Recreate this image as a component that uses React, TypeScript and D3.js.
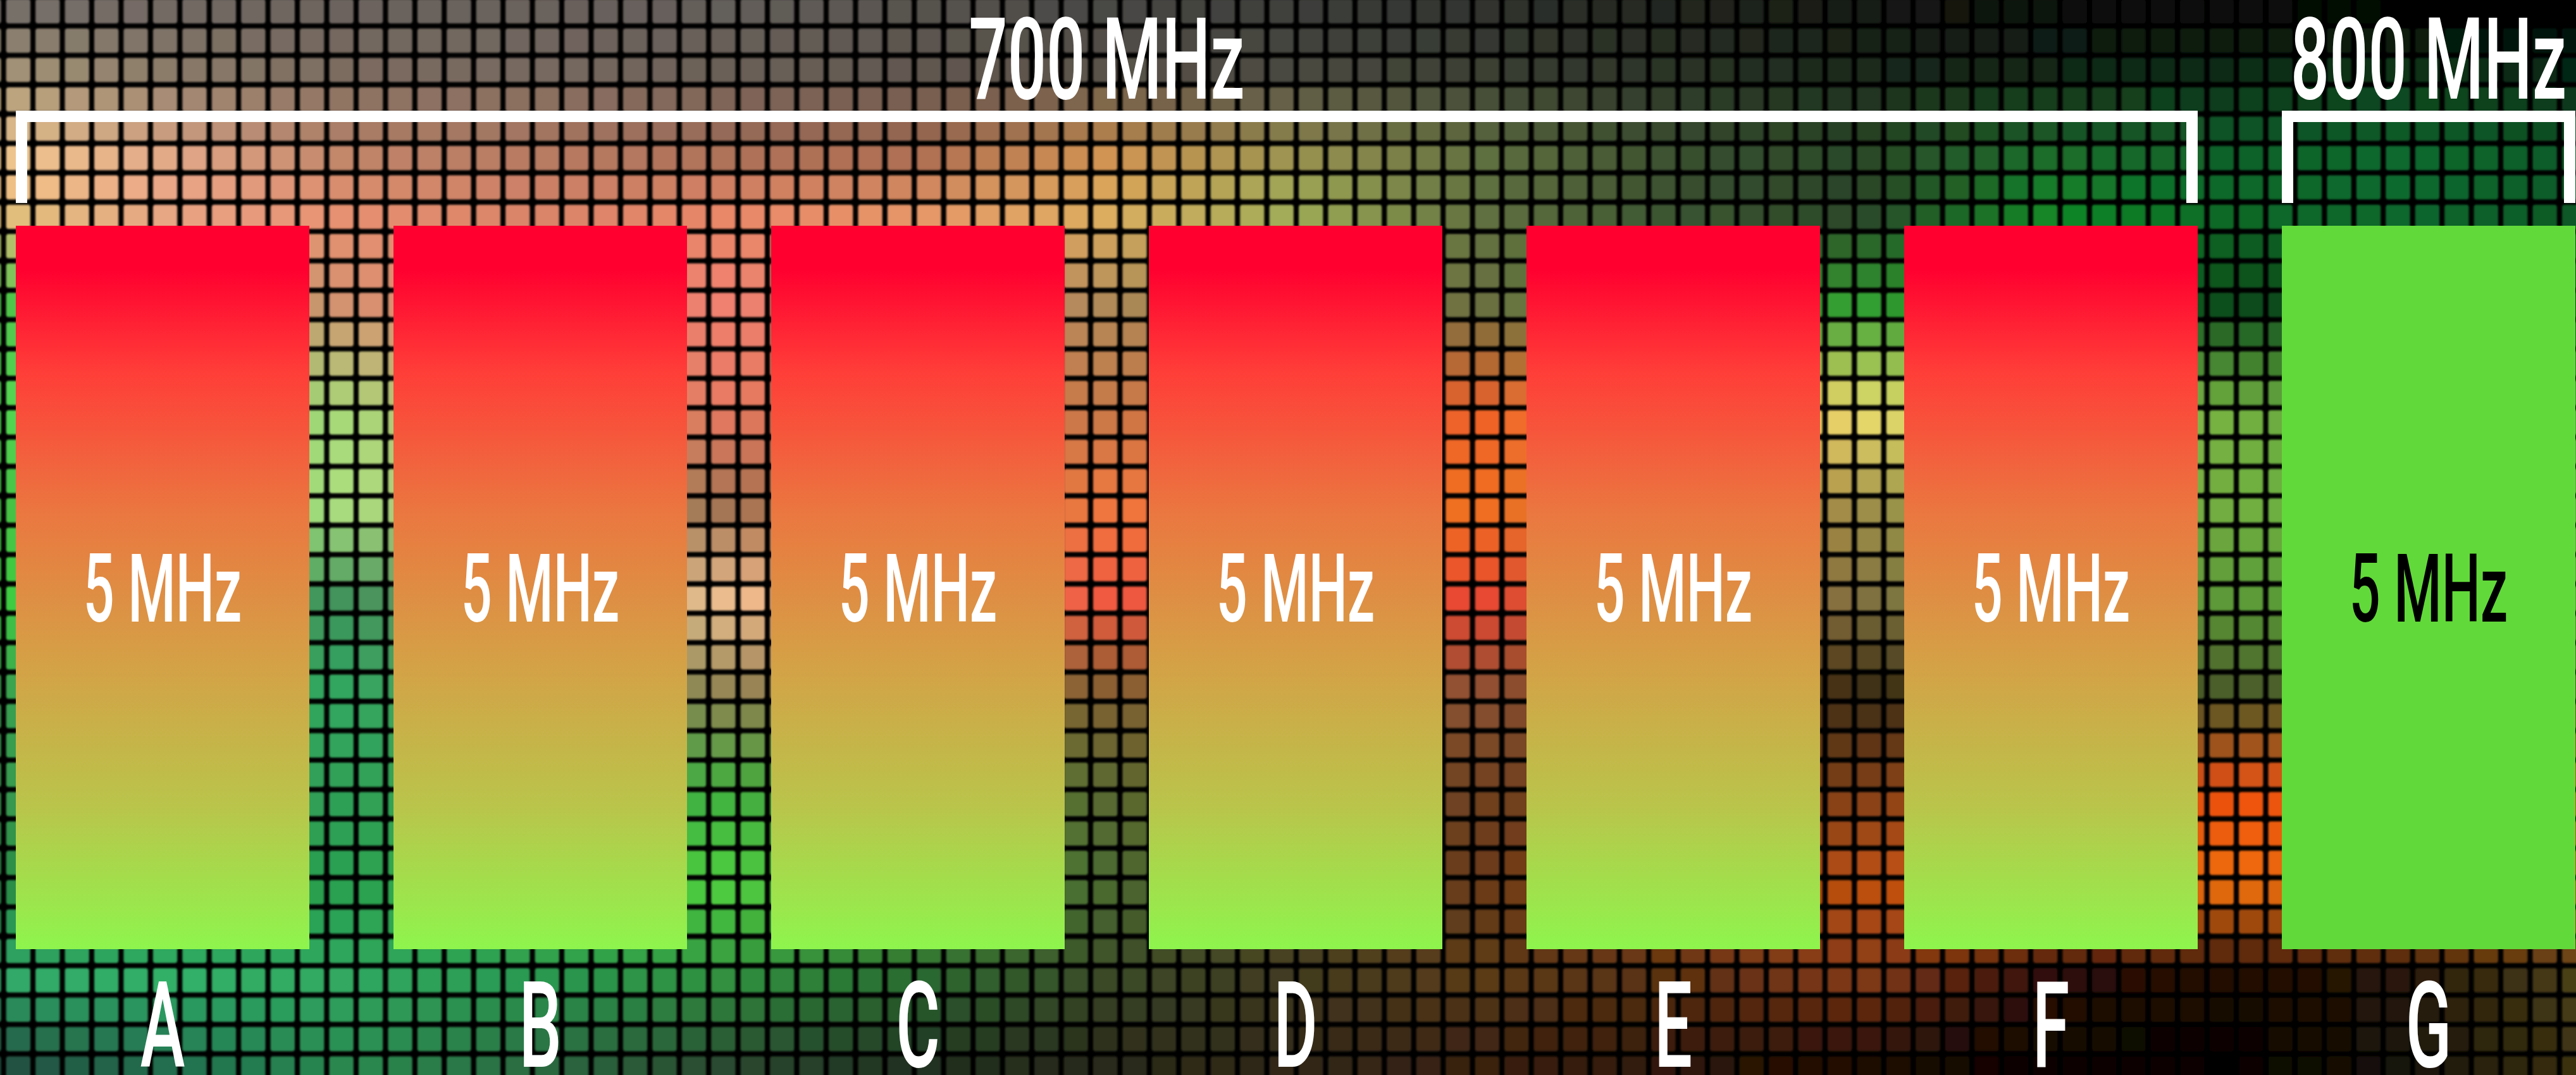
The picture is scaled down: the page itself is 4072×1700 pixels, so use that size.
import React, { useMemo } from "react";
import * as d3 from "d3";

const W = 4072;
const H = 1700;

// channels of 5 MHz each, grouped in two frequency bands
const channels = ["A", "B", "C", "D", "E", "F", "G"];
const channelWidthMHz = [5, 5, 5, 5, 5, 5, 5];
const bandNames = ["700 MHz", "800 MHz"];
const bandFirst = ["A", "G"];
const bandLast = ["F", "G"];
const freeChannel = "G";

// colours sampled from the mosaic backdrop (columns x rows)
const mosaicX = [0, 278, 556, 854, 1152, 1451, 1750, 2048, 2346, 2645, 2944, 3243, 3542, 3807, 4072];
const mosaicY = [20, 120, 240, 330, 480, 650, 800, 950, 1100, 1250, 1400, 1550, 1680];
const mosaicRows = [
  ["#77706a", "#736a64", "#6c645e", "#6a625c", "#645e5a", "#58544f", "#4a4845", "#3e3f3b", "#30332e", "#23271f", "#161a14", "#0e120e", "#080c08", "#040604", "#020302"],
  ["#a89878", "#8c7c6a", "#7c6c60", "#786a60", "#6c6058", "#625850", "#5c544a", "#4a4a42", "#3c4034", "#2c3428", "#1c2a1c", "#122a18", "#0a3018", "#0a3a1a", "#062a14"],
  ["#f0c890", "#e0a888", "#bc8468", "#b47a62", "#a87058", "#a86a50", "#d09050", "#9a9050", "#607040", "#3a5030", "#2a4a28", "#1e6a2a", "#10602a", "#0e6a2e", "#0c5a28"],
  ["#f0c080", "#f0a488", "#e89070", "#d88468", "#e88868", "#e89868", "#e0b060", "#a0b058", "#607040", "#3a5030", "#2a4028", "#108a28", "#0a6a28", "#0c6a30", "#0a5a28"],
  ["#48c848", "#90a860", "#d89070", "#e08870", "#f08070", "#d08868", "#b08a58", "#8a7e4c", "#6a7040", "#4a8838", "#30a030", "#1e7028", "#0a4a1a", "#0a4a1a", "#0a4a1a"],
  ["#50d850", "#80d070", "#a8d878", "#c8a070", "#e87860", "#d07850", "#c87848", "#e06838", "#f06028", "#f0a048", "#f0e070", "#b0c858", "#70b040", "#60a040", "#50a040"],
  ["#40c040", "#78d070", "#b0e080", "#a8a870", "#a07050", "#c87848", "#f07840", "#f07430", "#f07020", "#c88038", "#a09048", "#88a048", "#70b040", "#68b040", "#60a840"],
  ["#40d040", "#40a858", "#40905a", "#98a070", "#f0c090", "#f09068", "#f05840", "#ec5038", "#e84830", "#b06034", "#807040", "#6c8a3c", "#5a9a38", "#5a9a38", "#5a9a38"],
  ["#3aa050", "#34a458", "#30a860", "#609858", "#908050", "#887040", "#806030", "#846030", "#8a5030", "#603c20", "#3a2a10", "#424220", "#4a5a28", "#4a5a28", "#4a5a28"],
  ["#3a9a50", "#349c54", "#30a058", "#38a84c", "#40b040", "#4c8e38", "#5a6a30", "#665628", "#704020", "#784018", "#804018", "#b84814", "#f05010", "#e05010", "#d05010"],
  ["#2a8a48", "#2a9a4c", "#2aa050", "#3cb848", "#50d040", "#4c9e38", "#4a6a30", "#5a5224", "#6a3a18", "#984614", "#c05010", "#d86010", "#f07010", "#d86010", "#c05010"],
  ["#30a868", "#30b068", "#30a860", "#2a9850", "#30903f", "#2a6a30", "#3a4a28", "#403a20", "#5a3a18", "#5a3010", "#803818", "#301008", "#200a04", "#2a1a08", "#4a4018"],
  ["#205040", "#207050", "#2a8a50", "#2a6a40", "#2a4a30", "#203020", "#2a2a1a", "#302818", "#3a2010", "#301808", "#200a04", "#0a0402", "#060302", "#1a1508", "#3a3010"],
];

const FONT = "Roboto, 'Noto Sans', sans-serif";

// condensed look: the font is squeezed horizontally
const Label = ({ x, y, size, squeeze, fill = "#fff", children }: any) => (
  <text
    transform={`translate(${x},${y}) scale(${squeeze},1)`}
    textAnchor="middle"
    fontFamily={FONT}
    fontWeight={500}
    fontSize={size}
    fill={fill}
  >
    {children}
  </text>
);

const App = () => {
  const x = d3.scaleBand().domain(channels).range([25, 4071]).paddingInner(0.2228).paddingOuter(0);
  const y = d3.scaleLinear().domain([0, 5]).range([1501, 357]);
  const bw = x.bandwidth();

  const cells = useMemo(() => {
    const rowScales = mosaicRows.map((row) =>
      d3.scaleLinear<string>().domain(mosaicX).range(row).interpolate(d3.interpolateRgb).clamp(true)
    );
    const pitch = 46.44;
    const size = 38.4;
    const out: { x: number; y: number; c: string }[] = [];
    for (let gy = 41 - pitch; gy < H; gy += pitch) {
      for (let gx = 5.6 - pitch; gx < W; gx += pitch) {
        const cx = gx + pitch / 2;
        const cy = gy + pitch / 2;
        const col = d3
          .scaleLinear<string>()
          .domain(mosaicY)
          .range(rowScales.map((s) => s(cx)))
          .interpolate(d3.interpolateRgb)
          .clamp(true)(cy);
        out.push({ x: gx + (pitch - size) / 2, y: gy + (pitch - size) / 2, c: col });
      }
    }
    return out;
  }, []);

  const midY = (y(0) + y(5)) / 2;

  return (
    <svg
      width={W}
      height={H}
      viewBox={`0 0 ${W} ${H}`}
      style={{ position: "absolute", left: 0, top: 0, display: "block" }}
    >
      <defs>
        <linearGradient id="busy" x1="0" y1="0" x2="0" y2="1">
          <stop offset="0" stopColor="#ff002f" />
          <stop offset="0.06" stopColor="#ff002f" />
          <stop offset="0.2" stopColor="#ff3d38" />
          <stop offset="0.4" stopColor="#ea7840" />
          <stop offset="0.6" stopColor="#d5a046" />
          <stop offset="0.8" stopColor="#bac44b" />
          <stop offset="1" stopColor="#8ef54d" />
        </linearGradient>
        <filter id="soft" x="0" y="0" width="1" height="1">
          <feGaussianBlur stdDeviation="1.6" />
        </filter>
      </defs>

      <rect width={W} height={H} fill="#000" />
      <g filter="url(#soft)">
        {cells.map((d, i) => (
          <rect key={i} x={d.x} y={d.y} width={38.4} height={38.4} rx={4} fill={d.c} />
        ))}
      </g>

      {bandNames.map((name, i) => {
        const x0 = x(bandFirst[i])!;
        const x1 = x(bandLast[i])! + bw;
        return (
          <g key={name}>
            <path
              d={`M${x0 + 9},321 V184 H${x1 - 9} V321`}
              fill="none"
              stroke="#fff"
              strokeWidth={18}
              strokeLinejoin="miter"
            />
            <Label x={(x0 + x1) / 2} y={156} size={180} squeeze={0.6}>
              {name}
            </Label>
          </g>
        );
      })}

      {channels.map((c, i) => {
        const free = c === freeChannel;
        const cx = x(c)! + bw / 2;
        return (
          <g key={c}>
            <rect
              x={x(c)}
              y={y(channelWidthMHz[i])}
              width={bw}
              height={y(0) - y(channelWidthMHz[i])}
              fill={free ? "#62d93a" : "url(#busy)"}
            />
            <Label x={cx} y={midY + 54} size={150} squeeze={0.575} fill={free ? "#000" : "#fff"}>
              {`${channelWidthMHz[i]} MHz`}
            </Label>
            <Label x={cx} y={1687} size={190} squeeze={0.56}>
              {c}
            </Label>
          </g>
        );
      })}
    </svg>
  );
};

export default App;
